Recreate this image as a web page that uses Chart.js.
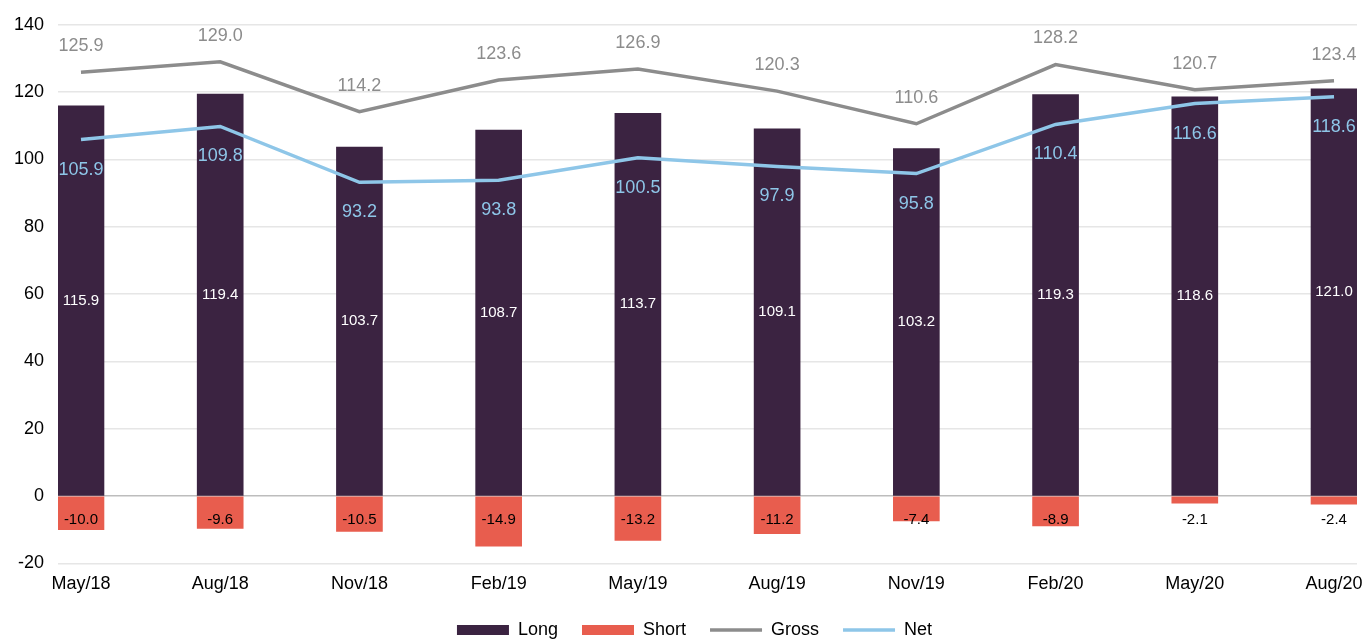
<!DOCTYPE html>
<html>
<head>
<meta charset="utf-8">
<script src="https://cdn.jsdelivr.net/npm/chart.js@4"></script>
<style>
  html, body { margin: 0; padding: 0; background: #fff; }
  #wrap { width: 1365px; height: 640px; }
</style>
</head>
<body>
<div id="wrap"><canvas id="positionChart" width="1365" height="640"></canvas></div>
<script>
// values
var quarters = ["May/18", "Aug/18", "Nov/18", "Feb/19", "May/19", "Aug/19", "Nov/19", "Feb/20", "May/20", "Aug/20"];
var longData = [115.9, 119.4, 103.7, 108.7, 113.7, 109.1, 103.2, 119.3, 118.6, 121.0];
var shortData = [-10.0, -9.6, -10.5, -14.9, -13.2, -11.2, -7.4, -8.9, -2.1, -2.4];
var grossData = [125.9, 129.0, 114.2, 123.6, 126.9, 120.3, 110.6, 128.2, 120.7, 123.4];
var netData = [105.9, 109.8, 93.2, 93.8, 100.5, 97.9, 95.8, 110.4, 116.6, 118.6];
var yTicks = [-20, 0, 20, 40, 60, 80, 100, 120, 140];

var FONT = "'Liberation Sans', Arial, sans-serif";

function toPoints(arr) {
    return arr.map(function (v, i) { return { x: i, y: v }; });
}

// draws the value labels next to each mark
var valueLabels = {
    id: "valueLabels",
    afterDatasetsDraw: function (chart) {
        var c = chart.ctx;
        var zeroY = chart.scales.y.getPixelForValue(0);
        c.save();
        c.textAlign = "center";
        c.textBaseline = "middle";
        chart.data.datasets.forEach(function (ds, di) {
            var meta = chart.getDatasetMeta(di);
            meta.data.forEach(function (el, i) {
                var txt = ds.data[i].y.toFixed(1);
                var x = el.x, y;
                if (ds.label === "Long") {
                    c.font = "15px " + FONT;
                    c.fillStyle = "#ffffff";
                    y = (el.y + el.base) / 2;
                } else if (ds.label === "Short") {
                    c.font = "15px " + FONT;
                    c.fillStyle = "#000000";
                    y = zeroY + 24;
                } else if (ds.label === "Gross") {
                    c.font = "18px " + FONT;
                    c.fillStyle = "#8c8c8c";
                    y = el.y - 26;
                } else {
                    c.font = "18px " + FONT;
                    c.fillStyle = "#8ec6e8";
                    y = el.y + 30;
                }
                c.fillText(txt, x, y);
            });
        });
        c.restore();
    }
};

// legend in the reference sits a little right of centre
var legendShift = {
    id: "legendShift",
    afterLayout: function (chart) {
        chart.legend.left += 16;
        chart.legend.right += 16;
    }
};

var ctx = document.getElementById("positionChart").getContext("2d");

var positionChart = new Chart(ctx, {
    data: {
        datasets: [
            {
                type: "line",
                label: "Gross",
                data: toPoints(grossData),
                borderColor: "#8c8c8c",
                backgroundColor: "#8c8c8c",
                borderWidth: 3.5,
                pointRadius: 0,
                stack: "gross",
                order: 1
            },
            {
                type: "line",
                label: "Net",
                data: toPoints(netData),
                borderColor: "#8ec6e8",
                backgroundColor: "#8ec6e8",
                borderWidth: 3.5,
                pointRadius: 0,
                stack: "net",
                order: 1
            },
            {
                type: "bar",
                label: "Long",
                data: toPoints(longData),
                backgroundColor: "#3b2341",
                barThickness: 46,
                stack: "bars",
                order: 2
            },
            {
                type: "bar",
                label: "Short",
                data: toPoints(shortData),
                backgroundColor: "#e85d4e",
                barThickness: 46,
                stack: "bars",
                order: 2
            }
        ]
    },
    options: {
        responsive: false,
        animation: false,
        layout: { padding: { left: 0, right: 8, top: 9, bottom: -9 } },
        scales: {
            x: {
                type: "linear",
                min: -0.165,
                max: 9.165,
                offset: false,
                stacked: true,
                grid: { display: false, offset: false },
                border: { display: false },
                afterBuildTicks: function (scale) {
                    scale.ticks = quarters.map(function (q, i) { return { value: i }; });
                },
                ticks: {
                    autoSkip: false,
                    maxRotation: 0,
                    padding: 2,
                    color: "#000",
                    font: { family: FONT, size: 18 },
                    callback: function (v) { return quarters[v]; }
                }
            },
            y: {
                stacked: true,
                min: -20,
                max: 140,
                afterBuildTicks: function (scale) {
                    scale.ticks = yTicks.map(function (v) { return { value: v }; });
                },
                afterFit: function (scale) {
                    scale.width = 58;
                },
                grid: {
                    drawTicks: false,
                    lineWidth: 1.5,
                    color: function (c) { return c.tick && c.tick.value === 0 ? "#bdbdbd" : "#e6e6e6"; }
                },
                border: { display: false },
                ticks: {
                    padding: 14,
                    color: "#000",
                    font: { family: FONT, size: 18 }
                }
            }
        },
        plugins: {
            tooltip: { enabled: false },
            legend: {
                position: "bottom",
                labels: {
                    usePointStyle: true,
                    pointStyleWidth: 52,
                    boxHeight: 10,
                    padding: 24,
                    color: "#000",
                    font: { family: FONT, size: 18 },
                    sort: function (a, b) {
                        var order = ["Long", "Short", "Gross", "Net"];
                        return order.indexOf(a.text) - order.indexOf(b.text);
                    },
                    generateLabels: function (chart) {
                        var items = Chart.defaults.plugins.legend.labels.generateLabels(chart);
                        items.forEach(function (it) {
                            var ds = chart.data.datasets[it.datasetIndex];
                            it.pointStyle = ds.type === "line" ? "line" : "rect";
                            it.lineWidth = ds.type === "line" ? 3.5 : 0;
                            it.strokeStyle = ds.type === "line" ? ds.borderColor : ds.backgroundColor;
                        });
                        return items;
                    }
                }
            }
        }
    },
    plugins: [valueLabels, legendShift]
});
</script>
</body>
</html>
